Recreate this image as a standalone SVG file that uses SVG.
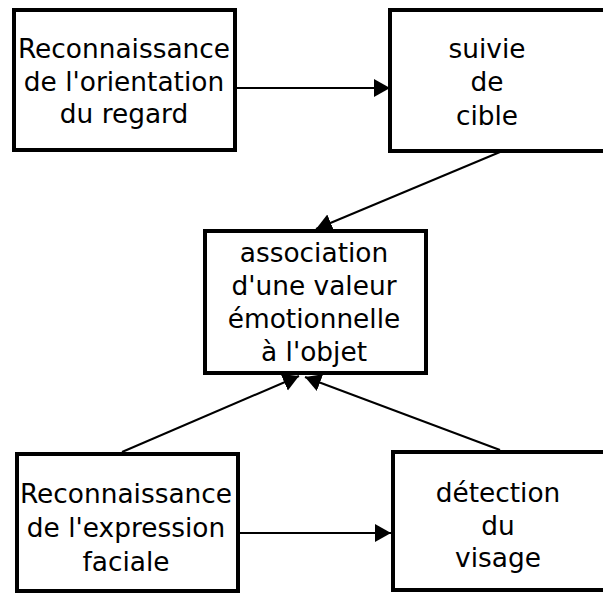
<svg xmlns="http://www.w3.org/2000/svg" width="603" height="596" viewBox="0 0 603 596">
<style>
.box{fill:#fff;stroke:#000;stroke-width:4}
.lbl{font-family:"DejaVu Sans",sans-serif;font-size:26.4px;fill:#000;text-anchor:middle}
.edge{stroke:#000;stroke-width:2;fill:none;marker-end:url(#ah)}
</style>
<defs>
<marker id="ah" markerUnits="userSpaceOnUse" markerWidth="17" markerHeight="19" refX="16" refY="9" orient="auto">
<path d="M0,0 L16,9 L0,18 z" fill="#000"/>
</marker>
</defs>
<rect width="603" height="596" fill="#fff"/>
<g id="connectors">
<line class="edge" x1="237" y1="88" x2="390" y2="88"/>
<line class="edge" x1="500" y1="152" x2="316" y2="229"/>
<line class="edge" x1="122" y1="452" x2="299" y2="376"/>
<line class="edge" x1="500" y1="450" x2="305" y2="377"/>
<line class="edge" x1="239" y1="533" x2="391" y2="533"/>
</g>
<g id="n1">
<rect class="box" x="14" y="10" width="221" height="140"/>
<text class="lbl" x="124" y="58">Reconnaissance</text>
<text class="lbl" x="124" y="91">de l'orientation</text>
<text class="lbl" x="124" y="123">du regard</text>
</g>
<g id="n2">
<rect class="box" x="390" y="10" width="221" height="141"/>
<text class="lbl" x="487" y="58">suivie</text>
<text class="lbl" x="487" y="91">de</text>
<text class="lbl" x="487" y="125">cible</text>
</g>
<g id="n3">
<rect class="box" x="205" y="231" width="221" height="142"/>
<text class="lbl" x="314" y="262">association</text>
<text class="lbl" x="314" y="295">d'une valeur</text>
<text class="lbl" x="314" y="328">émotionnelle</text>
<text class="lbl" x="314" y="361">à l'objet</text>
</g>
<g id="n4">
<rect class="box" x="17" y="454" width="221" height="137"/>
<text class="lbl" x="126" y="503">Reconnaissance</text>
<text class="lbl" x="126" y="537">de l'expression</text>
<text class="lbl" x="126" y="571">faciale</text>
</g>
<g id="n5">
<rect class="box" x="393" y="452" width="221" height="138"/>
<text class="lbl" x="498" y="502">détection</text>
<text class="lbl" x="498" y="535">du</text>
<text class="lbl" x="498" y="567">visage</text>
</g>
</svg>
